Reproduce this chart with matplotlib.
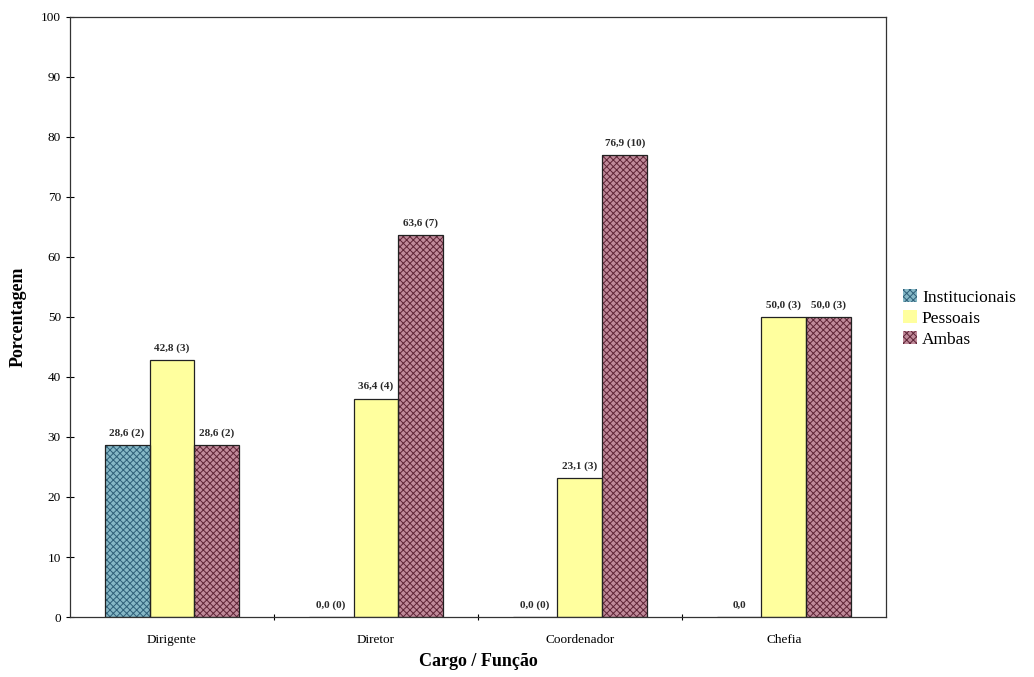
import matplotlib
matplotlib.use("Agg")
import matplotlib.pyplot as plt
import numpy as np

categories = ["Dirigente", "Diretor", "Coordenador", "Chefia"]
series = ["Institucionais", "Pessoais", "Ambas"]
institucionais = [28.6, 0.0, 0.0, 0.0]
pessoais = [42.8, 36.4, 23.1, 50.0]
ambas = [28.6, 63.6, 76.9, 50.0]
inst_labels = ["28,6 (2)", "0,0 (0)", "0,0 (0)", "0,0"]
pess_labels = ["42,8 (3)", "36,4 (4)", "23,1 (3)", "50,0 (3)"]
amb_labels = ["28,6 (2)", "63,6 (7)", "76,9 (10)", "50,0 (3)"]

plt.rcParams['font.family'] = ['Liberation Serif', 'DejaVu Serif']
plt.rcParams['hatch.linewidth'] = 0.7

fig = plt.figure(figsize=(10.34, 6.77), dpi=100)
ax = fig.add_axes([0.0677, 0.0886, 0.789, 0.8865])

x = np.arange(len(categories))
w = 0.22
face = ["#86b8c6", "#ffff9e", "#c08a9a"]
hatchc = ["#2f5f78", "#e8e880", "#5e2436"]
hatches = ["xxxxx", "", "xxxxx"]
data = [institucionais, pessoais, ambas]
labels = [inst_labels, pess_labels, amb_labels]
for i, (vals, lab) in enumerate(zip(data, labels)):
    pos = x + (i - 1) * w
    ax.bar(pos, vals, w, color=face[i], edgecolor=hatchc[i], hatch=hatches[i],
           linewidth=0, label=series[i], zorder=2)
    ax.bar(pos, vals, w, facecolor="none", edgecolor="#222222", linewidth=0.9, zorder=3)
    for p, v, t in zip(pos, vals, lab):
        ax.text(p, v + 1.2, t, ha="center", va="bottom", fontsize=8,
                fontweight="bold", color="#2a2a2a")

ax.set_xlim(-0.5, 3.5)
ax.set_ylim(0, 100)
ax.set_yticks(np.arange(0, 101, 10))
ax.set_xticks(x)
ax.set_xticklabels(categories, fontsize=9.5)
ax.set_xticks([0.5, 1.5, 2.5], minor=True)
ax.tick_params(axis="x", which="major", length=0, pad=12)
ax.tick_params(axis="x", which="minor", length=5, direction="inout", width=0.8)
ax.tick_params(axis="y", direction="inout", length=6, labelsize=9.5, width=0.8)
for s in ax.spines.values():
    s.set_linewidth(0.9)
    s.set_color("#333333")

ax.set_ylabel("Porcentagem", fontsize=13, fontweight="bold", labelpad=10)
ax.set_xlabel("Cargo / Função", fontsize=13, fontweight="bold", labelpad=5)

h, l = ax.get_legend_handles_labels()
fig.legend(h, l, loc="center left", bbox_to_anchor=(0.858, 0.53), frameon=False,
           fontsize=12.5, handlelength=0.8, handleheight=0.8, handletextpad=0.3,
           labelspacing=0.25)

fig.savefig("out.png", dpi=100)
